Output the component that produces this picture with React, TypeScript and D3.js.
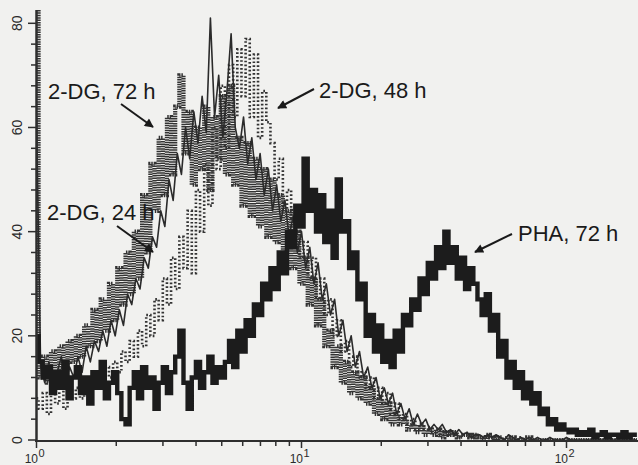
import React from "react";
import * as d3 from "d3";

// flow histogram: counts per channel, 64 channels per decade starting at 10^0
const CHANNELS_PER_DECADE = 64;

const pha72 = [
  20, 15, 12, 14, 9, 13, 10, 15, 8, 12,
  14, 9, 12, 7, 13, 10, 15, 8, 11, 13,
  9, 4, 3, 10, 13, 8, 14, 10, 12, 6,
  11, 14, 9, 13, 16, 21, 11, 6, 12, 15,
  10, 13, 16, 11, 14, 12, 15, 19, 14, 21,
  17, 23, 20, 26, 24, 30, 27, 33, 29, 36,
  32, 40, 37, 45, 41, 54, 44, 48, 40, 47,
  38, 44, 35, 50, 40, 42, 33, 36, 27, 30,
  20, 24, 17, 22, 15, 19, 14, 21, 17, 24,
  22, 27, 25, 31, 28, 34, 31, 37, 33, 40,
  34, 37, 31, 35, 29, 33, 30, 27, 24, 28,
  21, 24, 16, 19, 12, 15, 10, 13, 8, 11,
  7, 9, 5, 6, 3, 4, 2, 3, 2, 1.5,
  2, 1, 1.5, 1, 2, 0.5, 1, 1.5, 0.5, 1,
  1, 0.5, 1.5, 0.5, 1, 1,
];

const dg24 = [
  62, 14, 11, 15, 10, 13, 16, 11, 14, 12,
  16, 13, 18, 15, 19, 17, 21, 18, 23, 20,
  25, 22, 28, 26, 31, 29, 35, 33, 39, 37,
  44, 41, 50, 46, 55, 51, 60, 54, 63, 57,
  66, 59, 81, 62, 70, 58, 67, 78, 60, 56,
  62, 53, 58, 50, 55, 47, 52, 44, 49, 42,
  46, 39, 43, 36, 40, 33, 37, 30, 34, 27,
  30, 24, 27, 20, 23, 17, 20, 14, 17, 12,
  14, 10, 12, 8, 10, 7, 9, 5, 7, 4,
  6, 3, 5, 3, 4, 2, 3, 2, 3, 1.5,
  2, 1, 2, 1, 1.5, 0.5, 1, 1, 0.5, 1,
  0.5, 1, 0.5, 0, 1, 0.5, 0, 0.5, 0, 0.5,
  0, 0.5, 0, 0, 0.5, 0, 0, 0, 0.5, 0,
  0, 0, 0, 0, 0, 0, 0, 0, 0, 0, 0, 0, 0, 0, 0, 0,
];

const dg48 = [
  8, 6, 9, 5, 10, 7, 11, 6, 9, 8,
  10, 8, 12, 9, 11, 13, 10, 14, 12, 15,
  13, 17, 15, 19, 16, 21, 18, 24, 20, 27,
  23, 31, 26, 35, 29, 39, 33, 44, 32, 48,
  40, 53, 45, 60, 52, 68, 56, 72, 62, 75,
  66, 77, 62, 74, 58, 67, 61, 57, 50, 54,
  44, 48, 39, 43, 35, 38, 31, 35, 27, 31,
  24, 27, 20, 23, 17, 19, 14, 16, 12, 13,
  10, 12, 8, 10, 7, 9, 5, 7, 4, 5,
  3, 4, 2, 3, 2, 2.5, 1.5, 2, 1, 1.5,
  1, 1.5, 0.5, 1, 1, 0.5, 1, 0.5, 0.5, 1,
  0.5, 0, 0.5, 0, 0.5, 0, 0, 0.5, 0, 0,
  0, 0, 0, 0, 0, 0, 0, 0, 0, 0, 0, 0, 0, 0, 0, 0, 0, 0, 0, 0, 0, 0, 0, 0, 0, 0,
];

const dg72 = [
  90, 12, 16, 11, 17, 13, 18, 14, 19, 15,
  20, 16, 22, 18, 25, 19, 27, 21, 30, 23,
  33, 26, 36, 28, 40, 31, 47, 36, 53, 44,
  58, 47, 62, 51, 64, 70, 55, 63, 49, 60,
  52, 64, 48, 62, 54, 66, 51, 68, 49, 58,
  45, 57, 43, 54, 41, 52, 39, 50, 38, 47,
  36, 44, 33, 40, 30, 35, 26, 31, 22, 27,
  18, 21, 14, 18, 11, 15, 9, 13, 8, 12,
  7, 10, 5, 8, 4, 7, 3, 5, 3, 4,
  2, 3, 1.5, 3, 1, 2, 1, 2, 0.5, 1.5,
  1, 1.5, 0.5, 1, 1, 0.5, 1, 0.5, 0, 1,
  0.5, 0, 0.5, 0, 0, 0.5, 0, 0, 0, 0.5,
  0, 0, 0, 0, 0, 0, 0, 0, 0, 0, 0, 0, 0, 0, 0, 0, 0, 0, 0, 0, 0, 0, 0, 0, 0, 0,
];

const yTicks = [0, 20, 40, 60, 80];
const yMinorStep = 4;
const xDecades = [0, 1, 2];

const labels = [
  { text: "2-DG, 72 h", x: 48, y: 99, from: [121, 104], to: [153, 127] },
  { text: "2-DG, 48 h", x: 319, y: 98, from: [314, 89], to: [278, 108] },
  { text: "2-DG, 24 h", x: 47, y: 220, from: [117, 226], to: [153, 252] },
  { text: "PHA, 72 h", x: 518, y: 241, from: [512, 234], to: [475, 252] },
];

const W = 638;
const H = 465;
const font = "'Liberation Sans', Arial, sans-serif";

export default function App() {
  const x = d3.scaleLog().domain([1, 100]).range([36.5, 566.5]);
  const y = d3.scaleLinear().domain([0, 80]).range([440, 23.3]);
  const top = 10;

  const fluor = (c: number) => 10 ** (c / CHANNELS_PER_DECADE);
  const line = d3
    .line<number>()
    .x((_, i) => x(fluor(i)))
    .y((d) => y(d))
    .curve(d3.curveStep);
  const spikes = d3
    .line<number>()
    .x((_, i) => x(fluor(i)))
    .y((d) => y(d));

  const minorY = d3.range(0, 81, yMinorStep).filter((v) => v % 20 !== 0);
  const minorX: number[] = [];
  xDecades.forEach((k) => {
    for (let m = 2; m <= 9; m++) {
      const v = m * 10 ** k;
      if (x(v) < W) minorX.push(v);
    }
  });

  return (
    <svg width={W} height={H} style={{ position: "absolute", left: 0, top: 0, background: "#f1f1ef" }}>
      <defs>
        <clipPath id="plot">
          <rect x={36} y={top} width={W - 36} height={441 - top} />
        </clipPath>
        <marker id="arrow" viewBox="0 0 10 10" refX="9" refY="5" markerWidth="11" markerHeight="9"
          markerUnits="userSpaceOnUse" orient="auto">
          <path d="M0,0 L10,5 L0,10 z" fill="#1a1a1a" />
        </marker>
      </defs>

      <g clipPath="url(#plot)" fill="none" strokeLinejoin="miter">
        <path d={line(dg48) || ""} stroke="#333" strokeWidth={2.6} strokeDasharray="1.7 2.2" />
        <path d={line(dg72) || ""} stroke="#333" strokeWidth={4.2} strokeDasharray="1.5 0.9" />
        <path d={spikes(dg24) || ""} stroke="#2b2b2b" strokeWidth={1.6} strokeLinejoin="round" />
        <path d={line(pha72) || ""} stroke="#1c1c1c" strokeWidth={4.4} />
      </g>

      {/* y axis */}
      <line x1={36.5} x2={36.5} y1={top} y2={442} stroke="#2e2e2e" strokeWidth={2.5} />
      {yTicks.map((t) => (
        <g key={t}>
          <line x1={28} x2={36} y1={y(t)} y2={y(t)} stroke="#2e2e2e" strokeWidth={1.5} />
          <text transform={`translate(22,${y(t)}) rotate(-90)`} textAnchor="middle"
            fontFamily={font} fontSize={14} fill="#2a2a2a">{t}</text>
        </g>
      ))}
      {minorY.map((t) => (
        <line key={t} x1={31} x2={36} y1={y(t)} y2={y(t)} stroke="#2e2e2e" strokeWidth={1.5} />
      ))}

      {/* x axis */}
      <line x1={35} x2={W} y1={441} y2={441} stroke="#2e2e2e" strokeWidth={2} />
      {minorX.map((v) => (
        <line key={v} x1={x(v)} x2={x(v)} y1={441} y2={446} stroke="#2e2e2e" strokeWidth={1.5} />
      ))}
      {xDecades.map((k) => (
        <g key={k}>
          <line x1={x(10 ** k)} x2={x(10 ** k)} y1={441} y2={448} stroke="#2e2e2e" strokeWidth={1.5} />
          <text x={x(10 ** k) + 1.5} y={463} textAnchor="end" fontFamily={font} fontSize={12} fill="#2a2a2a">10</text>
          <text x={x(10 ** k) + 2} y={457} fontFamily={font} fontSize={11} fill="#2a2a2a">{k}</text>
        </g>
      ))}

      {/* annotations */}
      {labels.map((l) => (
        <g key={l.text}>
          <text x={l.x} y={l.y} fontFamily={font} fontSize={22} fill="#1a1a1a">{l.text}</text>
          <line x1={l.from[0]} y1={l.from[1]} x2={l.to[0]} y2={l.to[1]} stroke="#1a1a1a"
            strokeWidth={2} markerEnd="url(#arrow)" />
        </g>
      ))}
    </svg>
  );
}
